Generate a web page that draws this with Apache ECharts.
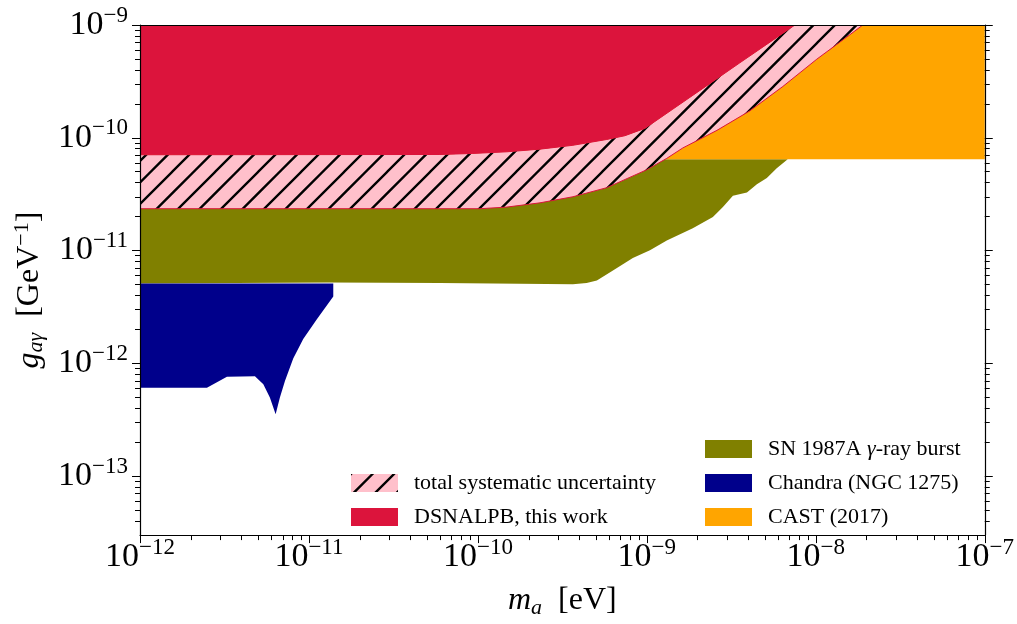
<!DOCTYPE html>
<html><head><meta charset="utf-8">
<script src="https://cdn.jsdelivr.net/npm/echarts@6/dist/echarts.min.js"></script>
<style>html,body{margin:0;padding:0;background:#fff}#c{width:1017px;height:624px}</style>
</head><body><div id="c"></div>
<script>
// ---------- data ----------
const massTicks = [1e-12, 1e-11, 1e-10, 1e-9, 1e-8, 1e-7];
const couplingTicks = [1e-13, 1e-12, 1e-11, 1e-10, 1e-9];
const massMin = 1e-12, massMax = 1e-7, gMin = 3e-14, gMax = 1e-9;

// DSNALPB (this work): lower edge of excluded region
const dsnalpbEdgeMass = [1e-12, 5.96e-11, 9.33e-11, 1.486e-10, 2.33e-10, 3.65e-10, 5.79e-10, 7.41e-10, 9.73e-10, 1.426e-9, 2.265e-9, 3.55e-9, 5.57e-9, 7.52e-9];
const dsnalpbEdgeG    = [7.07e-11, 7.11e-11, 7.26e-11, 7.51e-11, 7.93e-11, 8.58e-11, 9.66e-11, 1.043e-10, 1.211e-10, 1.796e-10, 2.90e-10, 4.62e-10, 7.34e-10, 1e-9];

// total systematic uncertainty: lower edge of band
const systLowerMass = [1e-12, 1.028e-10, 1.486e-10, 2.33e-10, 3.65e-10, 5.79e-10, 1.0e-9, 1.312e-9, 1.633e-9, 2.60e-9, 4.07e-9, 6.38e-9, 1.014e-8, 1.589e-8, 1.897e-8];
const systLowerG    = [2.35e-11, 2.35e-11, 2.43e-11, 2.65e-11, 3.00e-11, 3.61e-11, 5.21e-11, 6.57e-11, 8.13e-11, 1.164e-10, 1.733e-10, 2.85e-10, 4.98e-10, 8.19e-10, 1e-9];

// SN 1987A gamma-ray burst: lower edge
const snLowerMass = [1e-12, 1.33e-11, 5.96e-11, 3.65e-10, 4.4e-10, 5.06e-10, 6.30e-10, 8.26e-10, 1.043e-9, 1.312e-9, 1.87e-9, 2.46e-9, 2.82e-9, 3.23e-9, 3.91e-9, 4.48e-9, 5.13e-9, 5.87e-9, 6.82e-9];
const snLowerG    = [5.11e-12, 5.20e-12, 5.17e-12, 5.03e-12, 5.15e-12, 5.44e-12, 6.65e-12, 8.57e-12, 1.005e-11, 1.225e-11, 1.578e-11, 1.988e-11, 2.43e-11, 3.06e-11, 3.27e-11, 3.87e-11, 4.41e-11, 5.38e-11, 6.44e-11];
const snTopG = 6.44e-11;

// Chandra (NGC 1275): closed outline
const chandraMass = [1e-12, 1.393e-11, 1.393e-11, 1.111e-11, 9.25e-12, 8.07e-12, 7.21e-12, 6.73e-12, 6.35e-12, 5.87e-12, 5.37e-12, 4.79e-12, 3.27e-12, 2.49e-12, 1e-12];
const chandraG    = [5.11e-12, 5.11e-12, 3.91e-12, 2.45e-12, 1.648e-12, 1.106e-12, 6.97e-13, 4.99e-13, 3.54e-13, 4.99e-13, 6.52e-13, 7.69e-13, 7.59e-13, 6.09e-13, 6.09e-13];

// CAST (2017)
const castMass = [1e-12, 1e-7];
const castG = [6.44e-11, 1e-9];

// ---------- build ----------
const FONT = '"Liberation Serif","DejaVu Serif",serif';
const zip = (a, b) => a.map((v, i) => [v, b[i]]);

const dsnalpbPoly = [[massMin, gMax]].concat(zip(dsnalpbEdgeMass, dsnalpbEdgeG));
const systPoly = zip(dsnalpbEdgeMass, dsnalpbEdgeG).concat(zip(systLowerMass, systLowerG).reverse());
const snPoly = [[massMin, snTopG]].concat(zip(snLowerMass, snLowerG));
const chandraPoly = zip(chandraMass, chandraG);
const castPoly = [[castMass[0], castG[0]], [castMass[1], castG[0]], [castMass[1], castG[1]], [castMass[0], castG[1]]];

const hatch = (function () {
  const s = 43, c = document.createElement('canvas');
  c.width = s; c.height = s;
  const ctx = c.getContext('2d');
  ctx.fillStyle = '#FFC0CB'; ctx.fillRect(0, 0, s, s);
  ctx.strokeStyle = '#000'; ctx.lineWidth = 2.3; ctx.beginPath();
  for (let k = -2; k <= 4; k++) {
    const cx = k * s / 2;
    ctx.moveTo(cx - s - 3, s + 3); ctx.lineTo(cx + 3, -3);
  }
  ctx.stroke();
  return c;
})();
const hatchFill = { image: hatch, repeat: 'repeat' };

function area(name, pts, fill, stroke, lw) {
  return {
    type: 'custom', name: name, coordinateSystem: 'cartesian2d', clip: true, silent: true,
    itemStyle: { color: fill },
    data: pts,
    renderItem: function (params, api) {
      if (params.dataIndex !== 0) return;
      return {
        type: 'polygon',
        shape: { points: pts.map(p => api.coord(p)) },
        style: { fill: fill, stroke: stroke || null, lineWidth: lw || 0 }
      };
    }
  };
}

function minorList(lo, hi) {
  const out = [];
  for (let e = Math.floor(Math.log10(lo)); e < Math.round(Math.log10(hi)); e++) {
    for (let k = 2; k <= 9; k++) {
      const v = k * Math.pow(10, e);
      if (v > lo * 1.0001 && v < hi * 0.9999) out.push(v);
    }
  }
  return out;
}
const supLabel = v => '{b|10}{s|\u2212' + Math.abs(Math.round(Math.log10(v))) + '}';
const labelRich = {
  b: { fontFamily: FONT, fontSize: 34, lineHeight: 34, color: '#000' },
  s: { fontFamily: FONT, fontSize: 23, lineHeight: 23, color: '#000', padding: [0, 0, 19, 0] }
};
const lineStyle = { color: '#000', width: 1.2 };

function logAxis(min, max, extra) {
  return Object.assign({
    type: 'log', logBase: 10, min: min, max: max, z: 10,
    splitLine: { show: false }, minorTick: { show: false },
    axisLine: { show: false, lineStyle: lineStyle },
    axisTick: { show: false },
    axisLabel: { show: false }
  }, extra);
}

const titleRich = {
  i: { fontFamily: FONT, fontSize: 32, fontStyle: 'italic', lineHeight: 32, color: '#000' },
  sub: { fontFamily: FONT, fontSize: 22, fontStyle: 'italic', lineHeight: 22, color: '#000', padding: [14, 0, 0, 0] },
  sup: { fontFamily: FONT, fontSize: 22, lineHeight: 22, color: '#000', padding: [0, 0, 14, 0] },
  r: { fontFamily: FONT, fontSize: 32, lineHeight: 32, color: '#000' }
};

const xAxes = [
  logAxis(massMin, massMax, {
    position: 'bottom',
    axisLine: { show: true, lineStyle: lineStyle },
    axisTick: { show: true, inside: false, length: 8, customValues: massTicks, lineStyle: { color: '#000', width: 1 } },
    axisLabel: { show: true, customValues: massTicks, margin: 5, formatter: supLabel, rich: labelRich, showMinLabel: true, showMaxLabel: true },
    name: '{i|m}{sub|a}{r|  [eV]}', nameLocation: 'middle', nameGap: 41,
    nameTextStyle: { rich: titleRich }
  }),
  logAxis(massMin, massMax, {
    position: 'bottom',
    axisTick: { show: true, inside: false, length: 5, customValues: minorList(massMin, massMax), lineStyle: { color: '#000', width: 1 } }
  }),
  logAxis(massMin, massMax, { position: 'top', axisLine: { show: true, lineStyle: lineStyle } })
];

const yAxes = [
  logAxis(gMin, gMax, {
    position: 'left',
    axisLine: { show: true, lineStyle: lineStyle },
    axisTick: { show: true, inside: false, length: 8, customValues: couplingTicks, lineStyle: { color: '#000', width: 1 } },
    axisLabel: { show: true, customValues: couplingTicks, margin: 12, formatter: supLabel, rich: labelRich, showMinLabel: true, showMaxLabel: true },
    name: '{i|g}{sub|a\u03b3}{r|  [GeV}{sup|\u22121}{r|]}', nameLocation: 'middle', nameGap: 90, nameRotate: 90,
    nameTextStyle: { padding: [0, 20, 0, 0], rich: titleRich }
  }),
  logAxis(gMin, gMax, {
    position: 'left',
    axisTick: { show: true, inside: false, length: 5, customValues: minorList(gMin, gMax), lineStyle: { color: '#000', width: 1 } }
  }),
  logAxis(gMin, gMax, {
    position: 'right',
    axisLine: { show: true, lineStyle: lineStyle },
    axisTick: { show: true, inside: false, length: 8, customValues: couplingTicks, lineStyle: { color: '#000', width: 1 } }
  }),
  logAxis(gMin, gMax, {
    position: 'right',
    axisTick: { show: true, inside: false, length: 5, customValues: minorList(gMin, gMax), lineStyle: { color: '#000', width: 1 } }
  })
];

const legendText = {
  fontFamily: FONT, fontSize: 22, lineHeight: 22, color: '#000', padding: [0, 0, 0, 11],
  rich: { g: { fontFamily: FONT, fontSize: 22, fontStyle: 'italic', color: '#000' } }
};

const option = {
  animation: false,
  backgroundColor: '#fff',
  grid: { left: 140, right: 32, top: 25, bottom: 76, containLabel: false },
  xAxis: xAxes,
  yAxis: yAxes,
  legend: [
    { data: ['total systematic uncertainty', 'DSNALPB, this work'], orient: 'vertical', left: 351, top: 472,
      itemWidth: 47, itemHeight: 18, itemGap: 12, icon: 'rect', padding: 0, selectedMode: false, textStyle: legendText },
    { data: ['SN 1987A γ-ray burst', 'Chandra (NGC 1275)', 'CAST (2017)'], orient: 'vertical', left: 705, top: 438,
      itemWidth: 47, itemHeight: 18, itemGap: 12, icon: 'rect', padding: 0, selectedMode: false, textStyle: legendText,
      formatter: n => n.replace('γ', '{g|γ}') }
  ],
  series: [
    area('SN 1987A γ-ray burst', snPoly, '#808000'),
    area('CAST (2017)', castPoly, '#FFA500'),
    area('Chandra (NGC 1275)', chandraPoly, '#00008B'),
    area('total systematic uncertainty', systPoly, hatchFill, '#DC143C', 1),
    area('DSNALPB, this work', dsnalpbPoly, '#DC143C')
  ]
};

const chart = echarts.init(document.getElementById('c'), null, { renderer: 'canvas' });
chart.setOption(option);
</script>
</body></html>
